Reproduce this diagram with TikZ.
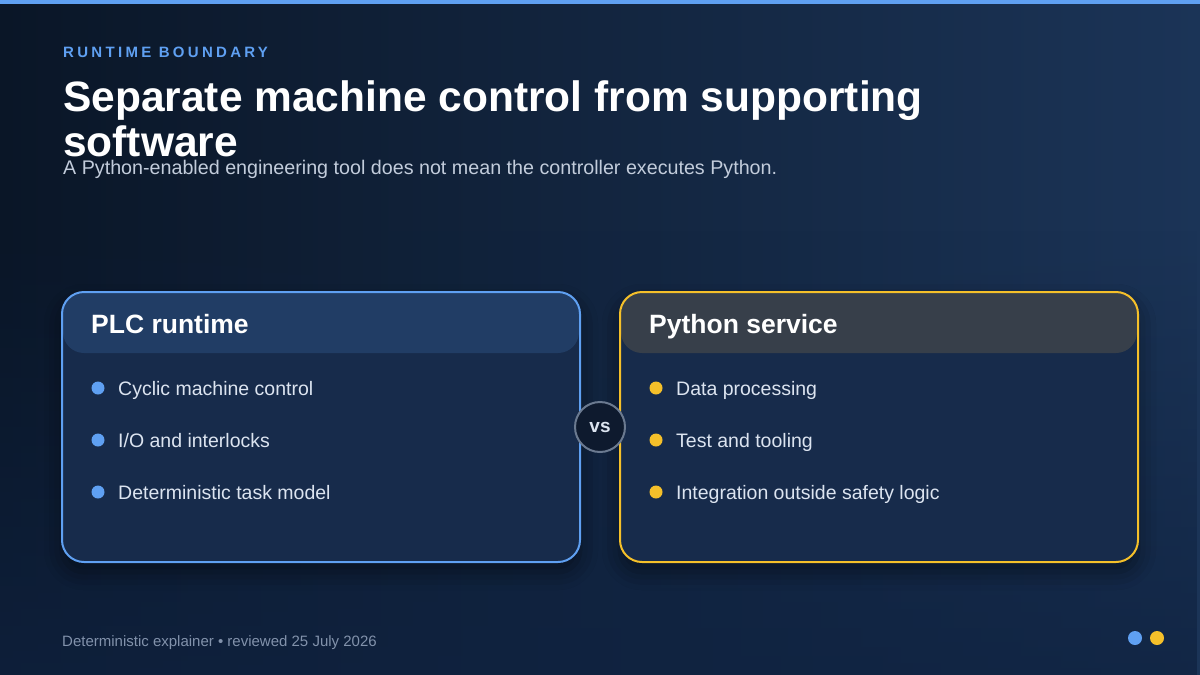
\documentclass[tikz,border=0pt]{standalone}
\usepackage{fontspec}
\setmainfont{Liberation Sans}
\newfontfamily\spacedfont[LetterSpace=22]{Liberation Sans}
\usetikzlibrary{shadows.blur,fadings}
\definecolor{bgL}{HTML}{0A1627}
\definecolor{bgM}{HTML}{10233F}
\definecolor{bgR}{HTML}{1B3457}
\definecolor{bgBot}{HTML}{0F2240}
\definecolor{accentblue}{HTML}{5FA0F2}
\definecolor{accentyellow}{HTML}{F5C02A}
\definecolor{cardfill}{HTML}{172B4B}
\definecolor{plchead}{HTML}{213D65}
\definecolor{pyhead}{HTML}{373F4A}
\definecolor{bodytext}{HTML}{DCE4F0}
\definecolor{subtext}{HTML}{C2CCDB}
\definecolor{foottext}{HTML}{8292AB}
\definecolor{vsfill}{HTML}{0E1A2E}
\definecolor{vsline}{HTML}{6B7A90}
\tikzfading[name=fadedown, top color=transparent!100, bottom color=transparent!25]
\tikzset{
  cardbox/.style={rounded corners=22pt, fill=cardfill, minimum width=518pt, minimum height=270pt,
    blur shadow={shadow xshift=0pt, shadow yshift=-10pt, shadow blur radius=18pt, shadow opacity=45}},
  cardline/.style={rounded corners=22pt, draw=#1, line width=2pt, minimum width=518pt, minimum height=270pt},
  headband/.style={rounded corners=21pt, fill=#1, minimum width=516pt, minimum height=61pt},
  headtext/.style={anchor=base west, text=white, font=\fontsize{26.5}{30}\selectfont\bfseries, inner sep=0pt},
  itemtext/.style={anchor=base west, text=bodytext, font=\fontsize{19.5}{23}\selectfont, inner sep=0pt},
  dotmark/.style={circle, fill=#1, minimum size=13pt, inner sep=0pt},
}
\begin{document}
\begin{tikzpicture}[x=1pt,y=-1pt]
\useasboundingbox (0,0) rectangle (1200,675);
% background
\shade[left color=bgL, middle color=bgM, right color=bgR] (0,0) rectangle (1200,675);
\fill[bgBot, path fading=fadedown] (0,230) rectangle (1200,675);
\fill[accentblue] (0,0) rectangle (1200,4);
% heading
\node[anchor=base west, inner sep=0pt, text=accentblue, font=\fontsize{15}{18}\selectfont\spacedfont\bfseries] (kicker) at (63,57) {RUNTIME BOUNDARY};
\node[anchor=base west, inner sep=0pt, text=white, align=left, font=\fontsize{42.5}{45}\selectfont\bfseries] (title) at (63,156) {Separate machine control from supporting\\software};
\node[anchor=base west, inner sep=0pt, text=subtext, font=\fontsize{19.7}{23}\selectfont] (subtitle) at (63,174) {A Python-enabled engineering tool does not mean the controller executes Python.};
% left card
\node[cardbox] (plc) at (321,427) {};
\node[headband=plchead] (plchd) at (321,322.5) {};
\node[cardline=accentblue] (plcframe) at (321,427) {};
\node[headtext] (plct) at (91,333) {PLC runtime};
\node[dotmark=accentblue] (d1) at (98,388) {};
\node[itemtext] (i1) at (118,395) {Cyclic machine control};
\node[dotmark=accentblue] (d2) at (98,440) {};
\node[itemtext] (i2) at (118,447) {I/O and interlocks};
\node[dotmark=accentblue] (d3) at (98,492) {};
\node[itemtext] (i3) at (118,499) {Deterministic task model};
% right card
\node[cardbox] (py) at (879,427) {};
\node[headband=pyhead] (pyhd) at (879,322.5) {};
\node[cardline=accentyellow] (pyframe) at (879,427) {};
\node[headtext] (pyt) at (649,333) {Python service};
\node[dotmark=accentyellow] (e1) at (656,388) {};
\node[itemtext] (j1) at (676,395) {Data processing};
\node[dotmark=accentyellow] (e2) at (656,440) {};
\node[itemtext] (j2) at (676,447) {Test and tooling};
\node[dotmark=accentyellow] (e3) at (656,492) {};
\node[itemtext] (j3) at (676,499) {Integration outside safety logic};
% vs
\node[circle, fill=vsfill, draw=vsline, line width=2pt, minimum size=50pt, inner sep=0pt, text=bodytext, font=\fontsize{19}{21}\selectfont\bfseries] (vs) at (600,427) {vs};
% footer
\node[anchor=base west, inner sep=0pt, text=foottext, font=\fontsize{15}{18}\selectfont] (foot) at (62,646) {Deterministic explainer \textbullet\ reviewed 25 July 2026};
\node[dotmark=accentblue, minimum size=14pt] (f1) at (1135,638) {};
\node[dotmark=accentyellow, minimum size=14pt] (f2) at (1157,638) {};
\end{tikzpicture}
\end{document}
